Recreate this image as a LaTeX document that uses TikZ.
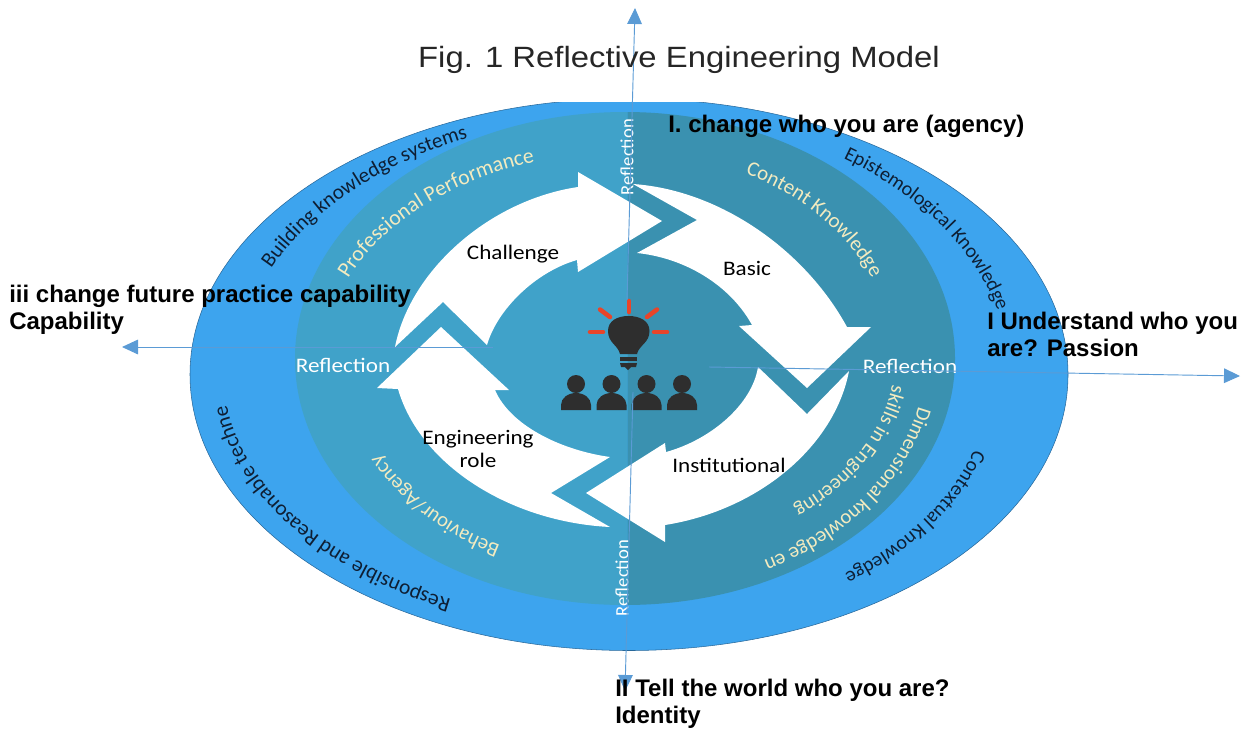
\documentclass[tikz,border=0pt]{standalone}
\usepackage{fontspec}
\setmainfont{Liberation Sans}
\newfontfamily\carl{Carlito}
\newfontfamily\carlw[FakeStretch=1.12]{Carlito}
\newfontfamily\titlef[FakeStretch=1.12]{Liberation Sans}
\usetikzlibrary{decorations.text,arrows.meta}
\definecolor{ringblue}{HTML}{3DA4EE}
\definecolor{discL}{HTML}{40A2C9}
\definecolor{discR}{HTML}{3A91B0}
\definecolor{axisblue}{HTML}{5B9BD5}
\definecolor{creamtxt}{HTML}{F3EBC0}
\definecolor{icondark}{HTML}{2E2E2E}
\definecolor{rayred}{HTML}{E8452A}
\definecolor{titlegray}{HTML}{262626}
\definecolor{ringtxt}{HTML}{0E1E33}
\tikzset{
  arrowshape/.style={fill=white,draw=none},
  axisline/.style={draw=axisblue,line width=0.7pt,-{Triangle[length=12pt,width=11pt,fill=axisblue]}},
  boldlabel/.style={font=\fontsize{18}{20.5}\selectfont\bfseries,text=black,align=left,anchor=north west,inner sep=0pt},
  steplabel/.style={font=\carlw\fontsize{15.5}{16.8}\selectfont,text=black,align=center,inner sep=0pt},
  refl/.style={font=\carlw\fontsize{15.5}{16}\selectfont,text=white,inner sep=0pt},
  reflv/.style={font=\carl\fontsize{14}{16}\selectfont,text=white,inner sep=0pt,rotate=90},
  ray/.style={draw=rayred,line width=3.4pt,line cap=round},
  iconpart/.style={fill=icondark,draw=none}
}
% #1 cx, #2 cy, #3 rx, #4 ry, #5 a1, #6 a2, #7 size, #8 colour, #9 text
\newcommand{\arctext}[9]{%
  \path[decorate,decoration={text along path,text align=center,
     text={|\carl\fontsize{#7}{#7}\selectfont\color{#8}|#9}}]
     ({#1+#3*cos(#5)},{#2+#4*sin(#5)}) arc [start angle={-(#5)},end angle={-(#6)},x radius={#3*0.75pt},y radius={#4*0.75pt}];}
\begin{document}
\begin{tikzpicture}[x=0.75pt,y=-0.75pt]
\useasboundingbox (0,0) rectangle (1245,729);
% outer ring
\begin{scope}
\clip (0,102) rectangle (1245,729);
\fill[ringblue,draw=ringtxt!45!ringblue,line width=0.4pt] (629,374.5) ellipse [x radius=439,y radius=276];
\end{scope}
% inner disc
\begin{scope}
\clip (0,0) rectangle (627.5,729);
\fill[discL] (625,358.5) ellipse [x radius=330,y radius=246.5];
\end{scope}
\begin{scope}
\clip (627.5,0) rectangle (1245,729);
\fill[discR] (625,358.5) ellipse [x radius=330,y radius=246.5];
\end{scope}
% white arrows
\fill[arrowshape] (395,347) -- (443,302) -- (487,345) .. controls (497,310) and (535,272) .. (577,260)
  -- (578,272) -- (662,221) -- (578,172) -- (578,187) .. controls (490,200) and (410,270) .. (395,347) -- cycle;
\fill[arrowshape] (633,184) -- (697,220) -- (637,253) .. controls (685,258) and (730,285) .. (752,325)
  -- (739,326) -- (807,388) -- (871,327) -- (847,327) .. controls (805,250) and (720,190) .. (633,184) -- cycle;
\fill[arrowshape] (849,371) -- (807,414) -- (758,367) .. controls (752,405) and (710,440) .. (666,452)
  -- (665,443) -- (586,493) -- (665,542) -- (665,525) .. controls (760,510) and (835,445) .. (849,371) -- cycle;
\fill[arrowshape] (610,527) -- (551,493) -- (610,457) .. controls (560,450) and (510,425) .. (495,390)
  -- (509,390) -- (441,327) -- (377,388) -- (398,389) .. controls (420,465) and (510,522) .. (610,527) -- cycle;
% bulb icon
\draw[ray] (629,301) -- (629,312);
\draw[ray] (600,309.5) -- (610,317);
\draw[ray] (657,309.5) -- (647,317);
\draw[ray] (590,332) -- (603,332);
\draw[ray] (654,332) -- (667,332);
\fill[iconpart] (620,354) .. controls (618,345) and (608,343) .. (608,331)
  .. controls (608,321) and (617,316) .. (628.5,316) .. controls (640,316) and (649.5,321) .. (649.5,331)
  .. controls (649.5,343) and (639,345) .. (637,354) -- cycle;
\fill[iconpart] (620,357) rectangle (637,360.5);
\fill[iconpart] (620,363) -- (637,363) -- (636,367) -- (631,367) -- (628,370) -- (625,367) -- (621,367) -- cycle;
% people icon
\foreach \n/\px in {pa/576,pb/611.5,pc/646.5,pd/682}{
  \fill[iconpart] (\px,384) circle [radius=9*0.75pt];
  \fill[iconpart] (\px-15,410) -- (\px-15,405) .. controls (\px-15,398) and (\px-8,393) .. (\px,393)
     .. controls (\px+8,393) and (\px+15,398) .. (\px+15,405) -- (\px+15,410) -- cycle;
}
% curved texts
\arctext{629}{375}{392}{260}{193.5}{253.5}{15.8}{ringtxt}{Building knowledge systems}
\arctext{629}{375}{380}{262}{-64}{-3}{15}{ringtxt}{Epistemological Knowledge}
\arctext{655}{378}{335}{237}{0}{69}{15}{ringtxt}{Contextual Knowledge}
\arctext{629}{375}{405}{250}{107}{187}{16}{ringtxt}{Responsible and Reasonable techne}
\arctext{625}{358.5}{300}{206}{191}{261}{16.2}{creamtxt}{Professional Performance}
\arctext{625}{358.5}{268}{207}{-73}{-11}{15.7}{creamtxt}{Content Knowledge}
\arctext{625}{358.5}{275}{210}{108}{164}{15.5}{creamtxt}{Behaviour/Agency}
\arctext{625}{358.5}{300}{228}{0}{72}{15.5}{creamtxt}{Dimensional knowledge en}
\arctext{625}{358.5}{270}{190}{-2}{59}{15.3}{creamtxt}{skills in Engineering}
% reflection labels
\node[refl] (rl) at (343,365) {Reflection};
\node[refl] (rr) at (910,366) {Reflection};
\node[reflv] (rt) at (627,157) {Reflection};
\node[reflv] (rb) at (622,578) {Reflection};
% step labels
\node[steplabel] (ch) at (513,254) {Challenge};
\node[steplabel] (ba) at (747,268) {Basic};
\node[steplabel] (en) at (478,449) {Engineering\\role};
\node[steplabel] (in) at (729,465) {Institutional};
% axes
\coordinate (axtop0) at (627,300);
\coordinate (axtop1) at (635,8);
\coordinate (axbot0) at (633,392);
\coordinate (axbot1) at (625,691);
\coordinate (axl0) at (493,347);
\coordinate (axl1) at (122,347);
\coordinate (axr0) at (709,367);
\coordinate (axr1) at (1240,376);
\draw[axisline] (axtop0) -- (axtop1);
\draw[axisline] (axbot0) -- (axbot1);
\draw[axisline] (axl0) -- (axl1);
\draw[axisline] (axr0) -- (axr1);
% title and bold labels
\node[font=\titlef\fontsize{22}{24}\selectfont,text=titlegray,inner sep=0pt] (title) at (679,60) {Fig. 1 Reflective Engineering Model};
\node[boldlabel] (la) at (668,114.5) {I. change who you are (agency)};
\node[boldlabel] (lb) at (987,311.5) {I Understand who you\\are? Passion};
\node[boldlabel] (lc) at (615,678.5) {II Tell the world who you are?\\Identity};
\node[boldlabel] (ld) at (9,284.5) {iii change future practice capability\\Capability};
\end{tikzpicture}
\end{document}
